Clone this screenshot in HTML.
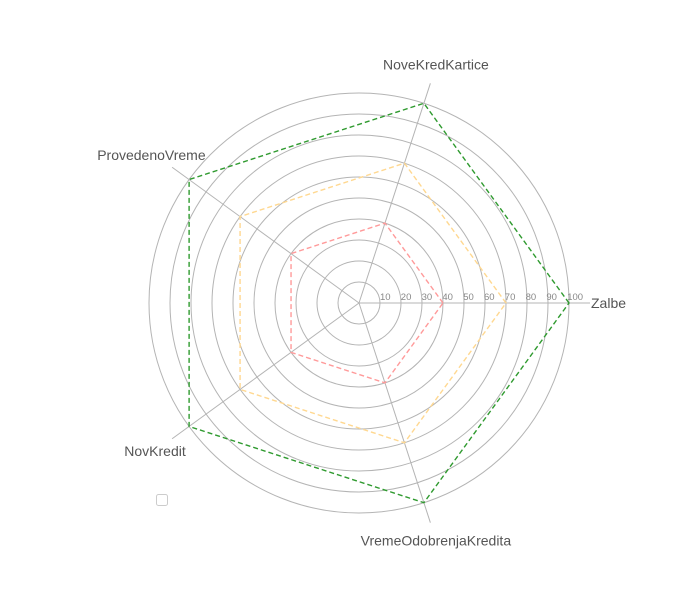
<!DOCTYPE html>
<html><head><meta charset="utf-8"><style>
html,body{margin:0;padding:0;background:#fff;width:700px;height:600px;overflow:hidden}
svg{display:block;font-family:"Liberation Sans",sans-serif}
</style></head><body>
<svg id="chart" width="700" height="600"></svg>
<script>
const categories=["Zalbe","NoveKredKartice","ProvedenoVreme","NovKredit","VremeOdobrenjaKredita"];
const seriesGreen=[100,100,100,100,100];
const seriesOrange=[70,70,70,70,70];
const seriesRed=[40,40,40,40,40];
const tickLabels=["10","20","30","40","50","60","70","80","90","100"];
const ticks=[10,20,30,40,50,60,70,80,90,100];
const NS="http://www.w3.org/2000/svg";
const svg=document.getElementById('chart');
const cx=359,cy=303,R=210,maxV=100;
function rad(v){return v/maxV*R;}
function ang(i){return i*2*Math.PI/categories.length;}
function pt(i,v){const a=ang(i),r=rad(v);return [cx+r*Math.cos(a),cy-r*Math.sin(a)];}
function mk(tag,attrs){const e=document.createElementNS(NS,tag);for(const k in attrs)e.setAttribute(k,attrs[k]);svg.appendChild(e);return e;}
ticks.forEach((t,j)=>{
  const c=mk('circle',{cx:cx,cy:cy,r:rad(t),fill:'none',stroke:'#b4b4b4','stroke-width':1});
  
  
});
categories.forEach((c,i)=>{
  const [x,y]=pt(i,110);
  const l=mk('line',{x1:cx,y1:cy,x2:x,y2:y,stroke:'#b4b4b4','stroke-width':1});
  
  
  const a=ang(i),lr=R+42;
  let lx=cx+lr*Math.cos(a),ly=cy-lr*Math.sin(a);
  let anchor='middle';
  if(i===0){lx=cx+R+22;anchor='start';ly=cy;}
  if(i===1){lx=pt(i,100)[0]+12;ly=cy-(R+28)*Math.sin(a)-12;}
  if(i===4){lx=pt(i,100)[0]+12;ly=cy-(R+28)*Math.sin(a)+11;}
  if(i===2){lx=cx-(R+4)*0.97;ly=cy-148;}
  if(i===3){lx=cx-204;ly=cy+148;}
  const t=mk('text',{x:lx,y:ly+5,'text-anchor':anchor,'font-size':14,fill:'#555'});
  t.textContent=c;
  
  
});
ticks.forEach((t,j)=>{
  const e=mk('text',{x:cx+rad(t)-j*0.2,y:cy-3,'font-size':9.5,fill:'#888','text-anchor':'start'});
  e.textContent=tickLabels[j];
  
  
});
function series(vals,color,name){
  const p=vals.map((v,i)=>pt(i,v).join(',')).join(' ');
  const e=mk('polygon',{points:p,fill:'none',stroke:color,'stroke-width':1.4,'stroke-dasharray':'5,3'});
  
  
}
series(seriesRed,'#ff9a9a','series-red');
series(seriesOrange,'#ffd890','series-orange');
series(seriesGreen,'#2f9a2f','series-green');
const lg=mk('rect',{x:156.5,y:494.5,width:11,height:11,rx:2,fill:'#fff',stroke:'#ccc'});


</script>
</body></html>
